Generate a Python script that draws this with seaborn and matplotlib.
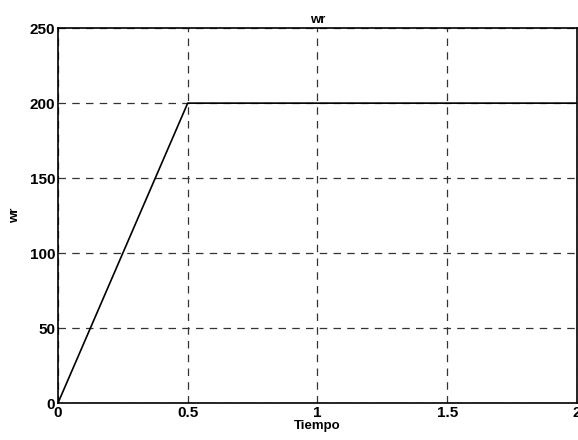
import numpy as np
import pandas as pd
import matplotlib
matplotlib.use('Agg')
import matplotlib.pyplot as plt
import seaborn as sns

# Data
tiempo = [0.0, 0.5, 2.0]
wr = [0.0, 200.0, 200.0]
x_ticks = [0, 0.5, 1, 1.5, 2]
y_ticks = [0, 50, 100, 150, 200, 250]

sns.set_style('white')
plt.rcParams['font.family'] = ['Liberation Sans', 'DejaVu Sans']
plt.rcParams['font.weight'] = 'bold'
plt.rcParams['text.color'] = 'black'
plt.rcParams['axes.labelcolor'] = 'black'

df = pd.DataFrame({'Tiempo': tiempo, 'wr': wr})

fig = plt.figure(figsize=(5.78, 4.40), dpi=100)
ax = fig.add_axes([0.1003, 0.084, 0.8977, 0.852])
sns.lineplot(data=df, x='Tiempo', y='wr', color='black', linewidth=1.2, ax=ax)

ax.set_xlim(0, 2)
ax.set_ylim(0, 250)
ax.set_xticks(x_ticks)
ax.set_xticklabels(['0', '0.5', '1', '1.5', '2'])
ax.set_yticks(y_ticks)
ax.grid(True, linestyle=(0, (6, 5)), color='#333333', linewidth=0.9)
ax.tick_params(direction='in', length=4, width=1, labelsize=11, pad=2,
               colors='black', labelcolor='black')
for lbl in ax.get_xticklabels() + ax.get_yticklabels():
    lbl.set_fontweight('bold')
for sp in ax.spines.values():
    sp.set_visible(True)
    sp.set_color('black')
    sp.set_linewidth(1.2)

ax.set_title('wr', fontsize=9.5, fontweight='bold', pad=4, color='black')
ax.set_xlabel('Tiempo', fontsize=9.5, fontweight='bold', labelpad=0, color='black')
ax.set_ylabel('wr', fontsize=9.5, fontweight='bold', labelpad=6, color='black')

fig.savefig('out.png', dpi=100)
